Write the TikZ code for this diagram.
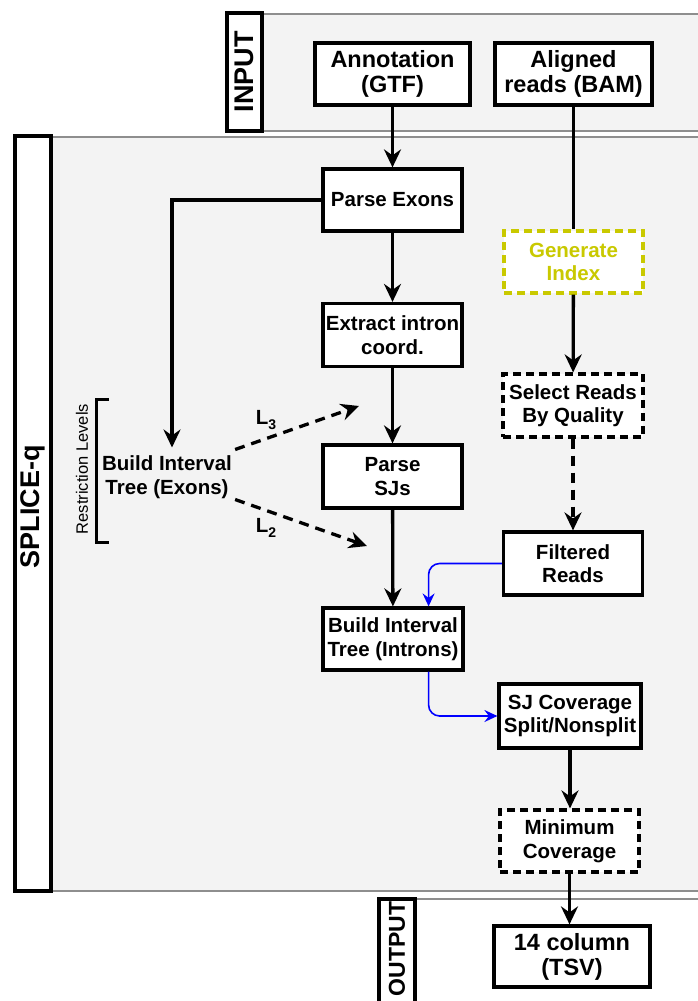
\documentclass[tikz,border=0pt]{standalone}
\usepackage{fontspec}
\setmainfont{Liberation Sans}
\usetikzlibrary{arrows.meta,calc}
\definecolor{panelfill}{HTML}{F3F3F3}
\definecolor{panelline}{HTML}{8E8E8E}
\definecolor{gold}{HTML}{C9C900}
\definecolor{myblue}{HTML}{0000FF}
\begin{document}
\begin{tikzpicture}[x=1pt,y=-1pt,
  bigfont/.style={font=\fontsize{23.5}{25}\selectfont\bfseries},
  smallfont/.style={font=\fontsize{20.5}{23.5}\selectfont\bfseries},
  box/.style={draw, line width=3.2pt, fill=white, align=center, inner sep=0pt},
  dbox/.style={box, dash pattern=on 8pt off 5pt},
  labelbox/.style={draw, line width=3.2pt, fill=white, inner sep=0pt, font=\fontsize{27}{27}\selectfont\bfseries},
  conn/.style={line width=3.3pt, -{Stealth[length=18pt,width=17pt,inset=6pt]}},
  plain/.style={line width=3.3pt},
  dconn/.style={conn, dash pattern=on 10pt off 7pt},
  bconn/.style={line width=1.6pt, myblue, rounded corners=11pt, -{Stealth[length=13pt,width=12pt,inset=4.5pt]}},
  pline/.style={draw=panelline, line width=1.5pt}
]
\useasboundingbox (0,0) rectangle (697,1001);

% panels
\fill[panelfill] (262,14) rectangle (720,131);
\draw[pline] (262,14) -- (720,14);
\draw[pline] (262,131) -- (720,131);
\fill[panelfill] (51,137) rectangle (720,891);
\draw[pline] (51,137) -- (720,137);
\draw[pline] (51,891) -- (720,891);
\draw[pline] (415,899) -- (720,899);

% side labels
\node[labelbox, rotate=90, minimum width=118pt, minimum height=35pt] (inlab) at (244.5,72) {INPUT};
\node[labelbox, rotate=90, minimum width=755pt, minimum height=36pt] (splab) at (33,513.5) {};
\node[rotate=90, font=\fontsize{27}{27}\selectfont\bfseries] (sptext) at (33,507) {SPLICE-q};
\node[labelbox, rotate=90, minimum width=140pt, minimum height=36pt] (outlab) at (397,969) {};
\node[rotate=90, font=\fontsize{23}{23}\selectfont\bfseries] (outtext) at (397,949) {OUTPUT};

% boxes
\node[box, bigfont, minimum width=155pt, minimum height=62pt] (ann) at (392.5,74) {Annotation\\(GTF)};
\node[box, bigfont, minimum width=157pt, minimum height=62pt] (bam) at (573.5,74) {Aligned\\reads (BAM)};
\node[box, smallfont, minimum width=139pt, minimum height=62pt] (pe) at (392.5,200) {Parse Exons};
\node[box, smallfont, minimum width=139pt, minimum height=63pt] (ext) at (392.5,335) {Extract intron\\coord.};
\node[box, smallfont, minimum width=139pt, minimum height=63pt] (psj) at (392.5,476.5) {Parse\\SJs};
\node[box, smallfont, minimum width=140pt, minimum height=62pt] (bit) at (393,639) {Build Interval\\Tree (Introns)};
\node[dbox, draw=gold, text=gold, smallfont, minimum width=139pt, minimum height=62pt] (gi) at (573.5,262) {Generate\\Index};
\node[dbox, smallfont, minimum width=140pt, minimum height=63pt] (sel) at (573,405.5) {Select Reads\\By Quality};
\node[box, smallfont, minimum width=139pt, minimum height=63pt] (fr) at (573,563.5) {Filtered\\Reads};
\node[box, smallfont, minimum width=142pt, minimum height=64pt] (sjc) at (570,716) {SJ Coverage\\Split/Nonsplit};
\node[dbox, smallfont, minimum width=139pt, minimum height=62pt] (mc) at (569.5,841) {Minimum\\Coverage};
\node[box, bigfont, minimum width=156pt, minimum height=61pt] (tsv) at (572,956.5) {14 column\\(TSV)};

% exon tree (no border)
\node[smallfont, align=center, inner sep=6pt] (bite) at (167,477) {Build Interval\\Tree (Exons)};

% restriction levels bracket
\draw[line width=3pt] (109,399) -- (96,399) -- (96,542) -- (109,542);
\node[rotate=90, font=\fontsize{16.5}{16.5}\selectfont] (rl) at (82,469) {Restriction Levels};

% connectors
\draw[conn] (ann) -- (pe);
\draw[plain] (bam) -- (gi);
\draw[conn] (pe) -- (ext);
\draw[conn] (ext) -- (psj);
\draw[conn] (psj) -- (bit);
\draw[conn] (pe.west) -| ($(bite.north)+(5,-2)$);
\draw[conn] (gi) -- (sel);
\draw[dconn] (sel) -- (fr);
\draw[conn] (sjc.south) -- (sjc.south |- mc.north);
\draw[conn] (mc.south) -- (mc.south |- tsv.north);
\draw[bconn] (fr.west) -| ($(bit.north east)+(-36,0)$);
\draw[bconn] ($(bit.south east)+(-36,0)$) |- (sjc.west);

% restriction level arrows
\coordinate (l3end) at (359,406);
\coordinate (l2end) at (367,546);
\draw[dconn] ($(bite.north east)+(-3,0)$) -- (l3end);
\draw[dconn] ($(bite.south east)+(-3,-5)$) -- (l2end);
\node[font=\fontsize{20.5}{20.5}\selectfont\bfseries] (l3) at (266,420) {L\raisebox{-5pt}{\fontsize{14}{14}\selectfont 3}};
\node[font=\fontsize{20.5}{20.5}\selectfont\bfseries] (l2) at (266,528) {L\raisebox{-5pt}{\fontsize{14}{14}\selectfont 2}};
\end{tikzpicture}
\end{document}
